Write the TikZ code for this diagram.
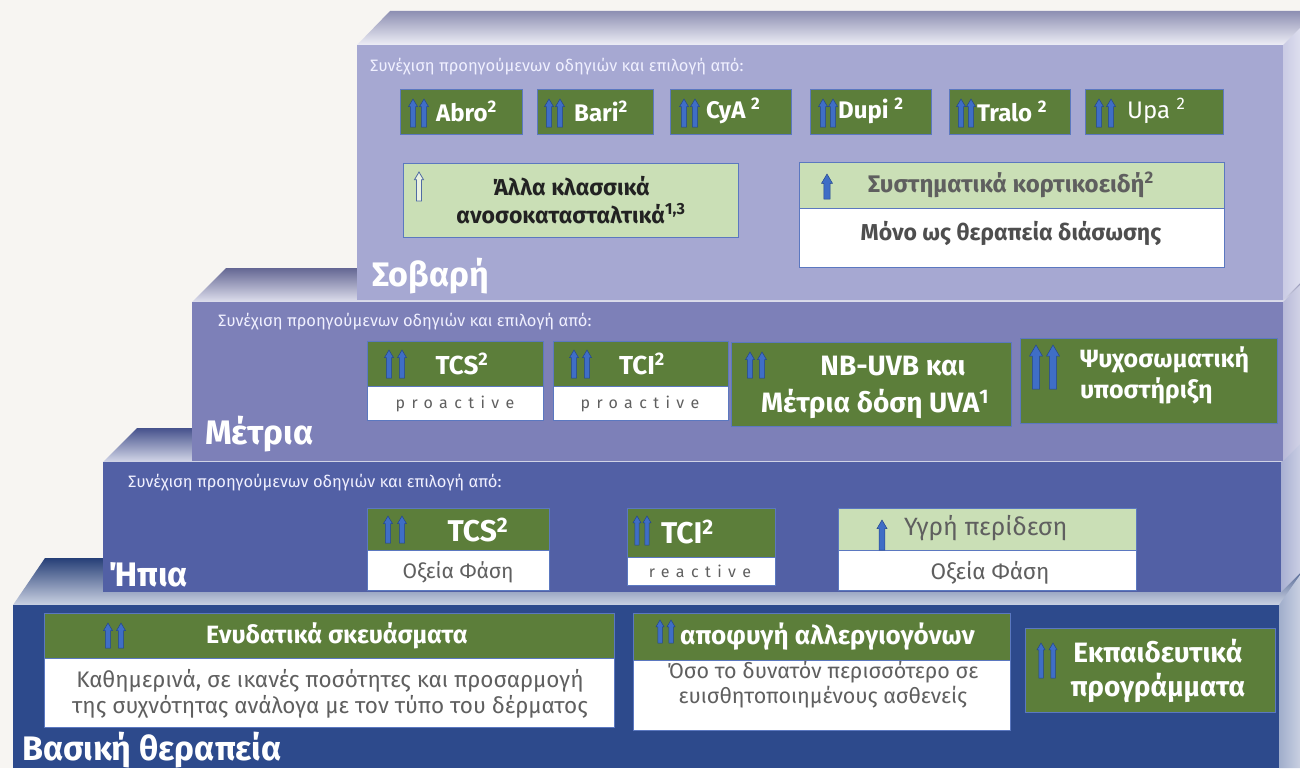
\documentclass[tikz,border=0pt]{standalone}
\usepackage{fontspec}
\setmainfont{Fira Sans}
\usetikzlibrary{calc}

\definecolor{bgc}{HTML}{F7F5F2}
\definecolor{faceA}{HTML}{A6A8D2}
\definecolor{faceB}{HTML}{7D80B8}
\definecolor{faceC}{HTML}{5260A5}
\definecolor{faceD}{HTML}{2D4A8C}
\definecolor{greenfill}{HTML}{5C7E3A}
\definecolor{lightgreen}{HTML}{CADFB6}
\definecolor{boxline}{HTML}{5B78C0}
\definecolor{graytext}{HTML}{5F5F5F}
\definecolor{darktext}{HTML}{222222}
\definecolor{arrowfill}{HTML}{3F6EC6}
\definecolor{arrowline}{HTML}{24468C}

\tikzset{
  panel/.style={draw=boxline, line width=0.9pt, inner sep=0pt, outer sep=0pt, anchor=north west},
  greenpanel/.style={panel, fill=greenfill},
  lightpanel/.style={panel, fill=lightgreen},
  whitepanel/.style={panel, fill=white},
  headtext/.style={inner sep=0pt, text=white, font=\bfseries\fontsize{24}{28}\selectfont},
  steptitle/.style={inner sep=0pt, anchor=west, text=white, font=\bfseries\fontsize{34}{38}\selectfont},
  intro/.style={inner sep=0pt, anchor=west, text=white!94!blue, font=\fontsize{16.5}{19}\selectfont},
  notetext/.style={inner sep=0pt, text=graytext, font=\fontsize{22}{26}\selectfont, align=center},
  spaced/.style={inner sep=0pt, text=graytext, font=\fontsize{16}{18}\selectfont\addfontfeatures{LetterSpace=40}},
  arrow body/.style={fill=arrowfill, draw=arrowline, line width=0.5pt},
  arrow hollow/.style={fill=lightgreen!40!white, draw=arrowline!80!white, line width=0.8pt},
}

% block arrow pointing up: [style]{x centre}{y tip}{y foot}{head width}
\newcommand\upblock[5][arrow body]{%
  \filldraw[#1] (#2-#5*0.28,#4) -- (#2-#5*0.28,#3+#5*0.85) -- (#2-#5*0.5,#3+#5*0.85)
    -- (#2,#3) -- (#2+#5*0.5,#3+#5*0.85) -- (#2+#5*0.28,#3+#5*0.85) -- (#2+#5*0.28,#4) -- cycle;}

% rectangular panel: {style}{name}{x1}{y1}{x2}{y2}
\newcommand\panelbox[6]{%
  \node[#1, minimum width={(#5-#3)*1pt}, minimum height={(#6-#4)*1pt}] (#2) at (#3,#4) {};}

\begin{document}
\begin{tikzpicture}[x=1pt,y=-1pt]
\useasboundingbox (0,0) rectangle (1300,768);
\fill[bgc] (0,0) rectangle (1300,768);

\begin{scope}
\clip (0,0) rectangle (1300,768);
% ---- top and side faces, lowest tier first ----
\shade[top color=faceD!85!black, bottom color=faceD!25!white]
  (13,605) -- (45,558) -- (1320,558) -- (1279,605) -- cycle;
\shade[left color=faceD!45!white, right color=faceD!15!white]
  (1279,605) -- (1312,558) -- (1312,768) -- (1279,768) -- cycle;

\shade[top color=faceC!85!black, bottom color=faceC!25!white]
  (103,462) -- (137,428) -- (1320,428) -- (1281,462) -- cycle;
\shade[left color=faceC!50!white, right color=faceC!15!white]
  (1281,462) -- (1315,428) -- (1315,558) -- (1281,592) -- cycle;

\shade[top color=faceB!80!black, bottom color=faceB!25!white]
  (192,302) -- (226,268) -- (1320,268) -- (1283,302) -- cycle;
\shade[left color=faceB!55!white, right color=faceB!15!white]
  (1283,302) -- (1317,268) -- (1317,427) -- (1283,461) -- cycle;

\shade[top color=faceA!85!black, bottom color=faceA!20!white]
  (357,45) -- (390,11) -- (1320,11) -- (1283,45) -- cycle;
\shade[left color=faceA!60!white, right color=faceA!15!white]
  (1283,45) -- (1317,11) -- (1317,266) -- (1283,300) -- cycle;

% ---- front faces ----
\fill[faceA] (357,45) rectangle (1283,300);
\fill[faceB] (192,302) rectangle (1283,461);
\fill[faceC] (103,462) rectangle (1281,592);
\fill[faceD] (13,605) rectangle (1279,768);
\end{scope}

% ================= Σοβαρή =================
\node[intro] (introA) at (370,67) {Συνέχιση προηγούμενων οδηγιών και επιλογή από:};

\panelbox{greenpanel}{abro}{400}{89}{522}{134}
\panelbox{greenpanel}{bari}{537}{89}{653}{134}
\panelbox{greenpanel}{cya}{670}{89}{791}{134}
\panelbox{greenpanel}{dupi}{810}{89}{931}{134}
\panelbox{greenpanel}{tralo}{949}{89}{1070}{134}
\panelbox{greenpanel}{upa}{1085}{89}{1223}{134}

\upblock{413}{99}{127}{9}\upblock{424}{99}{127}{9}
\node[headtext, anchor=west] (abrot) at (436,111) {Abro\textsuperscript{2}};
\upblock{549}{99}{127}{9}\upblock{560}{99}{127}{9}
\node[headtext, anchor=west] (barit) at (574,111) {Bari\textsuperscript{2}};
\upblock{684}{99}{127}{9}\upblock{695}{99}{127}{9}
\node[headtext, anchor=west] (cyat) at (706,111) {CyA \textsuperscript{2}};
\upblock{823}{99}{127}{9}\upblock{833}{99}{127}{9}
\node[headtext, anchor=west] (dupit) at (838,111) {Dupi \textsuperscript{2}};
\upblock{961}{99}{127}{9}\upblock{971}{99}{127}{9}
\node[headtext, anchor=west] (tralot) at (977,111) {Tralo \textsuperscript{2}};
\upblock{1099}{99}{127}{9}\upblock{1111}{99}{127}{9}
\node[headtext, anchor=west, font=\fontsize{24}{28}\selectfont] (upat) at (1127,111) {Upa \textsuperscript{2}};

\panelbox{lightpanel}{allo}{403}{163}{738}{237}
\upblock[arrow hollow]{419}{172}{201}{9}
\node[headtext, text=darktext, align=center, font=\bfseries\fontsize{23}{28}\selectfont] (allot) at (571,200)
  {Άλλα κλασσικά\\ανοσοκατασταλτικά\textsuperscript{1,3}};

\panelbox{lightpanel}{syst}{799}{162}{1224}{208}
\panelbox{whitepanel}{systw}{799}{208}{1224}{267}
\upblock{827}{174}{199}{11}
\node[headtext, text=graytext, anchor=west] (systt) at (868,185) {Συστηματικά κορτικοειδή\textsuperscript{2}};
\node[headtext, text=darktext!80!white, font=\bfseries\fontsize{23}{27}\selectfont] (systwt) at (1011,233) {Μόνο ως θεραπεία διάσωσης};

\node[steptitle] (titleA) at (372,276) {Σοβαρή};

% ================= Μέτρια =================
\node[intro] (introB) at (218,322) {Συνέχιση προηγούμενων οδηγιών και επιλογή από:};

\panelbox{greenpanel}{tcsB}{367}{341}{543}{386}
\panelbox{whitepanel}{tcsBw}{367}{386}{543}{420}
\upblock{389}{350}{378}{9}\upblock{402}{350}{378}{9}
\node[headtext, font=\bfseries\fontsize{26}{30}\selectfont] (tcsBt) at (462,364) {TCS\textsuperscript{2}};
\node[spaced] (tcsBn) at (455,404) {proactive};

\panelbox{greenpanel}{tciB}{553}{341}{728}{386}
\panelbox{whitepanel}{tciBw}{553}{386}{728}{420}
\upblock{574}{350}{378}{9}\upblock{587}{350}{378}{9}
\node[headtext, font=\bfseries\fontsize{26}{30}\selectfont] (tciBt) at (642,364) {TCI\textsuperscript{2}};
\node[spaced] (tciBn) at (640,404) {proactive};

\panelbox{greenpanel}{uvb}{731}{342}{1011}{426}
\upblock{750}{352}{378}{9}\upblock{762}{352}{378}{9}
\node[headtext, font=\bfseries\fontsize{28}{32}\selectfont] (uvbA) at (893,366) {NB-UVB και};
\node[headtext, font=\bfseries\fontsize{28}{32}\selectfont] (uvbB) at (875,404) {Μέτρια δόση UVA\textsuperscript{1}};

\panelbox{greenpanel}{psy}{1020}{338}{1277}{423}
\upblock{1036}{345}{389}{13}\upblock{1053}{345}{389}{13}
\node[headtext, anchor=west, align=left, font=\bfseries\fontsize{25}{31}\selectfont] (psyt) at (1080,375)
  {Ψυχοσωματική\\υποστήριξη};

\node[steptitle] (titleB) at (205,434) {Μέτρια};

% ================= Ήπια =================
\node[intro] (introC) at (128,483) {Συνέχιση προηγούμενων οδηγιών και επιλογή από:};

\panelbox{greenpanel}{tcsC}{367}{508}{549}{550}
\panelbox{whitepanel}{tcsCw}{367}{550}{549}{590}
\upblock{388}{516}{543}{9}\upblock{402}{516}{543}{9}
\node[headtext, font=\bfseries\fontsize{30}{34}\selectfont] (tcsCt) at (478,530) {TCS\textsuperscript{2}};
\node[notetext, font=\fontsize{21}{25}\selectfont] (tcsCn) at (458,572) {Οξεία Φάση};

\panelbox{greenpanel}{tciC}{627}{508}{775}{557}
\panelbox{whitepanel}{tciCw}{627}{557}{775}{585}
\upblock{637}{516}{545}{8}\upblock{647}{516}{545}{8}
\node[headtext, anchor=west, font=\bfseries\fontsize{30}{34}\selectfont] (tciCt) at (661,532) {TCI\textsuperscript{2}};
\node[spaced] (tciCn) at (700,571) {reactive};

\panelbox{lightpanel}{wet}{838}{508}{1136}{550}
\panelbox{whitepanel}{wetw}{838}{550}{1136}{590}
\upblock{882}{520}{550}{10}
\node[notetext, anchor=west, font=\fontsize{25}{29}\selectfont] (wett) at (904,528) {Υγρή περίδεση};
\node[notetext, font=\fontsize{22.5}{26}\selectfont] (wetn) at (990,573) {Οξεία Φάση};

\node[steptitle] (titleC) at (108,575) {Ήπια};

% ================= Βασική θεραπεία =================
\panelbox{greenpanel}{emol}{44}{613}{614}{658}
\panelbox{whitepanel}{emolw}{44}{658}{614}{727}
\upblock{108}{623}{648}{9}\upblock{121}{623}{648}{9}
\node[headtext, font=\bfseries\fontsize{25}{29}\selectfont] (emolt) at (337,636) {Ενυδατικά σκευάσματα};
\node[notetext, font=\fontsize{22.5}{26}\selectfont] (emoln) at (330,694)
  {Καθημερινά, σε ικανές ποσότητες και προσαρμογή\\της συχνότητας ανάλογα με τον τύπο του δέρματος};

\panelbox{greenpanel}{allerg}{633}{613}{1010}{660}
\panelbox{whitepanel}{allergw}{633}{660}{1010}{730}
\upblock{660}{620}{643}{8}\upblock{671}{620}{643}{8}
\node[headtext, anchor=west, font=\bfseries\fontsize{26}{30}\selectfont] (allergt) at (680,637) {αποφυγή αλλεργιογόνων};
\node[notetext, font=\fontsize{21.5}{25}\selectfont] (allergn) at (823,685)
  {Όσο το δυνατόν περισσότερο σε\\ευισθητοποιημένους ασθενείς};

\panelbox{greenpanel}{educ}{1025}{628}{1275}{712}
\upblock{1041}{643}{678}{8}\upblock{1053}{643}{678}{8}
\node[headtext, align=center, font=\bfseries\fontsize{28}{34}\selectfont] (educt) at (1158,671)
  {Εκπαιδευτικά\\προγράμματα};

\node[steptitle] (titleD) at (22,750) {Βασική θεραπεία};
\end{tikzpicture}
\end{document}
